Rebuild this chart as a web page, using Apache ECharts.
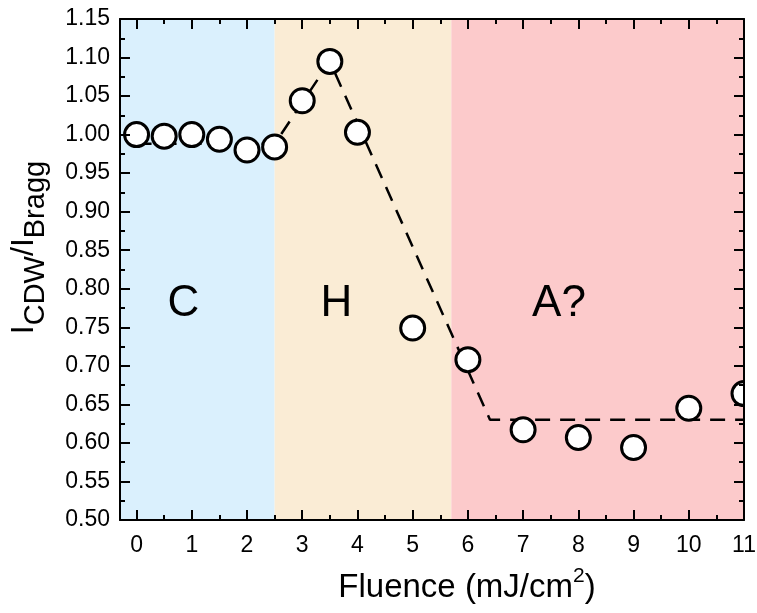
<!DOCTYPE html>
<html>
<head>
<meta charset="utf-8">
<script src="https://cdn.jsdelivr.net/npm/echarts@6/dist/echarts.min.js"></script>
<style>
  html, body { margin: 0; padding: 0; background: #fff; }
  #chart { width: 757px; height: 613px; }
</style>
</head>
<body>
<div id="chart"></div>
<script>
// Measured CDW / Bragg intensity ratio vs. pump fluence
const fluence = [0, 0.5, 1, 1.5, 2, 2.5, 3, 3.5, 4, 5, 6, 7, 8, 9, 10, 11];
const ratio = [1.000, 0.998, 1.000, 0.994, 0.980, 0.984, 1.044, 1.095, 1.003, 0.749, 0.708, 0.617, 0.607, 0.594, 0.645, 0.664];

// Guide-to-the-eye dashed trend
const guideX = [0, 2.5, 3.5, 6.4, 11];
const guideY = [0.988, 0.988, 1.095, 0.630, 0.630];

// Phase regions (fluence bounds) and their labels
const phaseNames = ['C', 'H', 'A?'];
const phaseBounds = [[-0.3, 2.5], [2.5, 5.7], [5.7, 11]];
const phaseColors = ['#daf0fd', '#faecd5', '#fccacb'];
const phaseLabelX = [0.85, 3.62, 7.65];
const phaseLabelY = [0.78, 0.78, 0.78];

// Axis ticks
const xMajor = [0, 1, 2, 3, 4, 5, 6, 7, 8, 9, 10, 11];
const xMinor = [0.5, 1.5, 2.5, 3.5, 4.5, 5.5, 6.5, 7.5, 8.5, 9.5, 10.5];
const xMin = -0.3, xMax = 11;
const yMin = 0.5, yMax = 1.15, yStep = 0.05;

const FONT = 'Liberation Sans, Arial, sans-serif';
const chart = echarts.init(document.getElementById('chart'), null, { renderer: 'canvas' });

function xAxisDef(pos, ticks, len, showLine, showLabel) {
  return {
    type: 'value', position: pos, min: xMin, max: xMax, z: 5,
    axisLine: { show: showLine, onZero: false, lineStyle: { color: '#000', width: 2 } },
    axisTick: { show: true, inside: true, length: len, customValues: ticks,
      lineStyle: { color: '#000', width: 2 } },
    axisLabel: showLabel ? { show: true, customValues: xMajor, color: '#000',
      fontFamily: FONT, fontSize: 23, margin: 14 } : { show: false },
    splitLine: { show: false }
  };
}
function yAxisDef(pos, showLabel) {
  return {
    type: 'value', position: pos, min: yMin, max: yMax, interval: yStep, z: 5,
    axisLine: { show: true, onZero: false, lineStyle: { color: '#000', width: 2 } },
    axisTick: { show: true, inside: true, length: 10, lineStyle: { color: '#000', width: 2 } },
    minorTick: { show: true, splitNumber: 2, length: 5, lineStyle: { color: '#000', width: 2 } },
    axisLabel: showLabel ? { show: true, color: '#000', fontFamily: FONT, fontSize: 23, margin: 10,
      formatter: v => v.toFixed(2) } : { show: false },
    splitLine: { show: false }
  };
}

const bottomX = xAxisDef('bottom', xMajor, 10, true, true);
bottomX.name = '{t|Fluence (mJ/cm}{s|2}{t|)}';
bottomX.nameLocation = 'middle';
bottomX.nameGap = 46;
bottomX.nameTextStyle = {
  padding: [0, 0, 0, 70],
  rich: {
    t: { fontFamily: FONT, fontSize: 33, fontWeight: 'normal', color: '#000', lineHeight: 38, verticalAlign: 'bottom' },
    s: { fontFamily: FONT, fontSize: 21, fontWeight: 'normal', color: '#000', lineHeight: 22, verticalAlign: 'top' }
  }
};

const leftY = yAxisDef('left', true);
leftY.name = '{m|I}{s|CDW}{m|/I}{s|Bragg}';
leftY.nameLocation = 'middle';
leftY.nameGap = 70;
leftY.nameTextStyle = {
  padding: [0, 0, 0, 44],
  rich: {
    m: { fontFamily: FONT, fontSize: 32, fontWeight: 'normal', color: '#000', lineHeight: 32, verticalAlign: 'top' },
    s: { fontFamily: FONT, fontSize: 29, fontWeight: 'normal', color: '#000', lineHeight: 42, verticalAlign: 'bottom' }
  }
};

// White circles, clipped to the plotting rectangle
function renderPoint(params, api) {
  const p = api.coord([api.value(0), api.value(1)]);
  const cs = params.coordSys;
  return {
    type: 'circle',
    shape: { cx: p[0], cy: p[1], r: 12 },
    style: { fill: '#fff', stroke: '#000', lineWidth: 3 },
    clipPath: { type: 'rect', shape: { x: cs.x, y: cs.y, width: cs.width, height: cs.height } }
  };
}

const option = {
  animation: false,
  backgroundColor: '#fff',
  grid: { left: 120, right: 13, top: 19, bottom: 93, containLabel: false, outerBoundsMode: 'none' },
  xAxis: [
    bottomX,
    xAxisDef('bottom', xMinor, 5, false, false),
    xAxisDef('top', xMajor, 10, true, false),
    xAxisDef('top', xMinor, 5, false, false)
  ],
  yAxis: [leftY, yAxisDef('right', false)],
  series: [
    {
      type: 'line',
      xAxisIndex: 0, yAxisIndex: 0,
      data: guideX.map((x, i) => [x, guideY[i]]),
      symbol: 'none',
      lineStyle: { color: '#000', width: 2.5, type: [15, 10] },
      z: 2,
      markArea: {
        silent: true,
        data: phaseBounds.map((b, i) => [
          { xAxis: b[0], itemStyle: { color: phaseColors[i], opacity: 1, borderWidth: 0 } },
          { xAxis: b[1] }
        ])
      }
    },
    {
      type: 'custom',
      xAxisIndex: 0, yAxisIndex: 0,
      data: fluence.map((x, i) => [x, ratio[i]]),
      renderItem: renderPoint,
      z: 3
    },
    {
      type: 'scatter',
      xAxisIndex: 0, yAxisIndex: 0,
      data: phaseNames.map((n, i) => ({ value: [phaseLabelX[i], phaseLabelY[i]], name: n })),
      symbolSize: 0,
      itemStyle: { opacity: 1 },
      label: { show: true, position: 'inside', formatter: p => p.name,
        fontFamily: FONT, fontSize: 44, color: '#000', fontWeight: 'normal', opacity: 1 },
      z: 4
    }
  ]
};
chart.setOption(option);
</script>
</body>
</html>
